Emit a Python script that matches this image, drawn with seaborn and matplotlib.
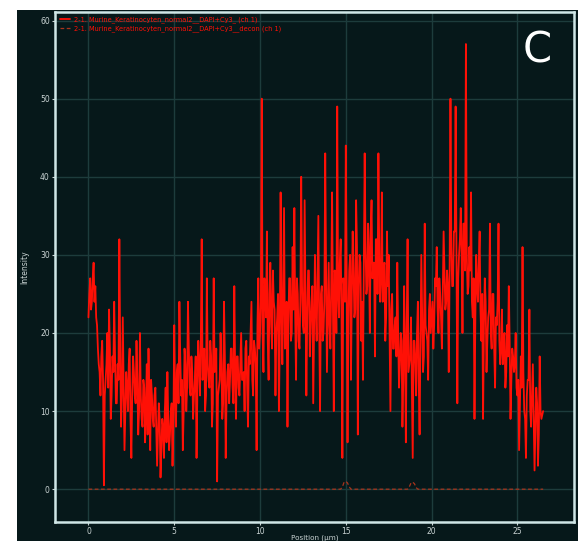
import numpy as np
import pandas as pd
import matplotlib
matplotlib.use("Agg")
import matplotlib.pyplot as plt
import seaborn as sns
from matplotlib.patches import Rectangle

# ---- data ----
step_um = 0.1
# samples at x = i * 0.1 um (peaks / dips of the profile)
intensity = [
    22, 27, 24, 29, 26, 21, 16, 12, 19, 0.5,
    14, 20, 23, 9, 17, 24, 11, 16, 32, 8,
    22, 5, 15, 10, 18, 4, 17, 12, 19, 7,
    20, 9, 14, 6, 16, 18, 5, 12, 8, 13,
    3, 11, 1.5, 9, 4, 13, 15, 5, 10, 3,
    21, 8, 16, 24, 12, 5, 18, 10, 24, 13,
    17, 9, 14, 4, 19, 12, 32, 15, 10, 27,
    14, 19, 8, 27, 16, 1, 13, 20, 9, 24,
    4, 15, 11, 18, 13, 26, 9, 17, 12, 20,
    14, 10, 19, 8, 16, 24, 12, 18, 5, 27,
    20, 50, 15, 26, 33, 14, 29, 18, 24, 12,
    22, 10, 38, 16, 36, 20, 8, 27, 19, 31,
    36, 14, 25, 18, 40, 21, 37, 12, 28, 17,
    24, 11, 30, 19, 35, 10, 26, 20, 43, 15,
    29, 18, 38, 10, 27, 49, 22, 32, 4, 26,
    44, 6, 28, 14, 33, 22, 37, 7, 30, 19,
    14, 43, 25, 34, 20, 37, 29, 17, 32, 43,
    24, 38, 28, 19, 33, 30, 10, 25, 18, 22,
    29, 13, 20, 8, 26, 6, 32, 16, 22, 4,
    19, 12, 24, 7, 30, 15, 34, 20, 14, 25,
    22, 18, 27, 31, 20, 25, 18, 33, 23, 28,
    15, 50, 26, 33, 49, 11, 30, 36, 20, 34,
    57, 25, 31, 38, 22, 9, 30, 24, 33, 19,
    9, 27, 15, 22, 34, 18, 25, 13, 21, 34,
    16, 23, 19, 13, 21, 26, 9, 18, 15, 20,
    12, 5, 17, 31, 10, 4, 14, 23, 8, 16,
    2.4, 13, 3, 17, 9, 10,
]
# samples at x = i * 0.1 + 0.05 um (the dense middle band)
intensity_mid = [
    25, 23, 27, 24, 22, 18, 15, 17, 14, 12,
    16, 13, 18, 12, 15, 17, 11, 14, 18, 12,
    14, 10, 13, 16, 9, 12, 15, 11, 14, 10,
    12, 8, 13, 10, 7, 11, 14, 9, 12, 8,
    7, 9, 5, 8, 10, 6, 9, 7, 11, 8,
    12, 15, 11, 17, 14, 10, 16, 13, 18, 12,
    15, 12, 17, 13, 16, 19, 14, 18, 12, 16,
    13, 17, 11, 15, 18, 12, 14, 16, 11, 17,
    12, 16, 14, 18, 11, 15, 17, 13, 16, 14,
    15, 18, 13, 17, 20, 14, 19, 16, 21, 18,
    24, 20, 27, 22, 19, 25, 21, 28, 23, 20,
    25, 19, 23, 26, 18, 24, 21, 27, 20, 23,
    22, 27, 19, 24, 26, 20, 25, 22, 28, 21,
    26, 20, 23, 27, 21, 25, 19, 24, 28, 22,
    21, 26, 23, 28, 20, 25, 29, 22, 27, 24,
    27, 22, 30, 25, 28, 23, 31, 26, 29, 24,
    28, 31, 26, 30, 33, 27, 29, 32, 25, 30,
    27, 24, 29, 22, 26, 20, 23, 18, 21, 17,
    20, 16, 19, 14, 18, 21, 15, 17, 13, 19,
    16, 20, 14, 18, 22, 17, 21, 19, 23, 20,
    24, 21, 26, 23, 27, 22, 25, 28, 24, 26,
    28, 31, 26, 33, 29, 27, 32, 30, 34, 28,
    30, 26, 28, 24, 27, 22, 26, 29, 23, 25,
    21, 24, 19, 23, 20, 25, 18, 22, 24, 19,
    18, 16, 20, 15, 17, 19, 14, 17, 16, 13,
    14, 11, 13, 15, 9, 12, 14, 10, 12, 9,
    8, 11, 7, 10,
]
decon = ([0.0] * 148 + [0.3, 0.9, 1.0, 0.8, 0.3] + [0.0] * 34
         + [0.3, 0.8, 0.9, 0.7, 0.2] + [0.0] * 75)
decon = decon[:len(intensity)]

label_raw = "2-1. Murine_Keratinocyten_normal2__DAPI+Cy3_ (ch 1)"
label_decon = "2-1. Murine_Keratinocyten_normal2__DAPI+Cy3__decon (ch 1)"
x_ticks = [0, 5, 10, 15, 20, 25]
y_ticks = [0, 10, 20, 30, 40, 50, 60]

position = [round(i * step_um, 3) for i in range(len(intensity))]
position_mid = [round(i * step_um + step_um / 2, 3) for i in range(len(intensity_mid))]
raw_df = pd.DataFrame({"Position": position + position_mid,
                       "Intensity": intensity + intensity_mid}).sort_values("Position")
dec_df = pd.DataFrame({"Position": position, "Intensity": decon})

# ---- styling ----
sns.set_style("dark")
bg = "#06181a"
fg = "#c9d3d3"
plt.rcParams["font.family"] = ["DejaVu Sans"]

fig = plt.figure(figsize=(5.82, 5.41), dpi=100)
fig.patch.set_facecolor("white")
fig.patches.append(Rectangle((17 / 582, 0), (578 - 17) / 582, 1 - 10 / 541,
                             transform=fig.transFigure, facecolor=bg,
                             edgecolor="none", zorder=-10))

ax = fig.add_axes([55 / 582, 1 - 522 / 541, (574 - 55) / 582, (522 - 12) / 541])
ax.set_facecolor(bg)

sns.lineplot(data=raw_df, x="Position", y="Intensity", ax=ax, color="#ff1006", lw=1.3,
             estimator=None, sort=False, label=label_raw)
sns.lineplot(data=dec_df, x="Position", y="Intensity", ax=ax, color="#a8341c", lw=0.9,
             estimator=None, sort=False, label=label_decon, linestyle=(0, (3, 2)))

ax.set_xlim(-1.95, 28.3)
ax.set_ylim(-4.2, 61.1)
ax.set_xticks(x_ticks)
ax.set_yticks(y_ticks)
ax.grid(True, color="#1d3c3c", lw=1)
ax.set_axisbelow(True)
for s in ax.spines.values():
    s.set_visible(True)
    s.set_color("#cfe6e6")
    s.set_linewidth(1.8)
ax.tick_params(colors=fg, labelsize=5.5, length=2.5, width=0.8, direction="out",
               left=True, bottom=True, pad=1.2)
ax.set_xlabel("Position (µm)", color=fg, fontsize=5.2, labelpad=-1.2)
ax.set_ylabel("Intensity", color=fg, fontsize=5.5, labelpad=8)

leg = ax.legend(loc="upper left", frameon=False, fontsize=4.8, labelcolor="#ff1006",
                handlelength=1.6, handletextpad=0.6, borderaxespad=0.3,
                labelspacing=0.25)

fig.text(537 / 582, 1 - 50 / 541, "C", color="white", fontsize=30,
         ha="center", va="center")

fig.savefig("out.png", dpi=100, facecolor="white")
